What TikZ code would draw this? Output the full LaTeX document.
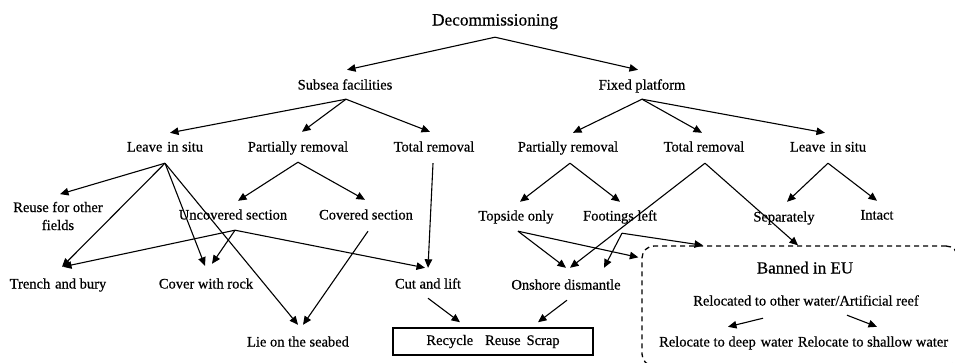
\documentclass[tikz,border=0pt]{standalone}
\usepackage{fontspec}
\setmainfont{Liberation Serif}[FakeBold=0.6]
\usetikzlibrary{arrows.meta,calc}
\begin{document}
\begin{tikzpicture}[x=1pt,y=-1pt,
  lbl/.style={font=\fontsize{14.5}{18}\selectfont, inner sep=0pt, text height=10pt, text depth=3pt},
  big/.style={lbl, font=\fontsize{17.3}{20}\selectfont},
  arr/.style={-{Triangle[length=8.5pt,width=7.5pt]}, line width=1.1pt},
]
\useasboundingbox (0,0) rectangle (955,362);
\clip (0,0) rectangle (955,362);

% ---- labels ----
\node[big] (dec) at (495,22) {Decommissioning};
\node[lbl] (sub) at (345,86) {Subsea facilities};
\node[lbl] (fix) at (642,86) {Fixed platform};

\node[lbl] (lis1) at (165,148) {Leave\,\,in situ};
\node[lbl] (pr1) at (298,148) {Partially removal};
\node[lbl] (tr1) at (434,148) {Total removal};
\node[lbl] (pr2) at (568,148) {Partially removal};
\node[lbl] (tr2) at (704,148) {Total removal};
\node[lbl] (lis2) at (828,148) {Leave\,\,in situ};

\node[font=\fontsize{14.5}{18}\selectfont, inner sep=0pt, align=center] (reuse) at (58,216) {Reuse for other\\fields};
\node[lbl] (unc) at (233,216) {Uncovered section};
\node[lbl] (cov) at (366,216) {Covered section};
\node[lbl] (top) at (516,217) {Topside only};
\node[lbl] (foot) at (620,217) {Footings left};
\node[lbl] (sep) at (784,218) {Separately};
\node[lbl] (intact) at (877,216) {Intact};

\node[lbl] (trench) at (58,285) {Trench\,\,and bury};
\node[lbl] (rock) at (206,285) {Cover with rock};
\node[lbl] (cut) at (428,285) {Cut and lift};
\node[lbl] (onshore) at (566,286) {Onshore dismantle};
\node[lbl] (lie) at (298,343) {Lie on the seabed};

\node[draw, line width=1.5pt, minimum width=200pt, minimum height=27pt, inner sep=0pt,
      font=\fontsize{14.5}{18}\selectfont] (box) at (493,341.5)
      {Recycle\hspace{12pt}Reuse\hspace{6pt}Scrap};

% dashed region for options banned in the EU
\node[draw, rounded corners=12pt, dash pattern=on 5pt off 4pt, line width=1.3pt,
      minimum width=316pt, minimum height=120pt, inner sep=0pt] (eu) at (800,306) {};
\node[big, font=\fontsize{17}{20}\selectfont] (ban) at (805,270) {Banned in EU};
\node[lbl] (reloc) at (806,302) {Relocated to other water/Artificial reef};
\node[lbl] (deep) at (726,343) {Relocate to deep\,\,water};
\node[lbl] (shallow) at (873,343) {Relocate to shallow water};

% ---- connectors ----
\draw[arr] ($(dec.south)+(0,8.5)$) -- ($(sub.north)+(2,-9.5)$);
\draw[arr] ($(dec.south)+(0,8.5)$) -- ($(fix.north)+(-4,-9.5)$);

\draw[arr] ($(sub.south)+(1,6.5)$) -- ($(lis1.north)+(5,-8.5)$);
\draw[arr] ($(sub.south)+(1,6.5)$) -- ($(pr1.north)+(4,-9.5)$);
\draw[arr] ($(sub.south)+(1,6.5)$) -- ($(tr1.north)+(-4,-9.5)$);

\draw[arr] ($(fix.south)+(0,6.5)$) -- ($(pr2.north)+(5,-8.5)$);
\draw[arr] ($(fix.south)+(0,6.5)$) -- ($(tr2.north)+(-2,-8.5)$);
\draw[arr] ($(fix.south)+(0,6.5)$) -- ($(lis2.north)+(-3,-8.5)$);

\draw[arr] ($(lis1.south)+(0,8.5)$) -- ($(reuse.north)+(2,-7.5)$);
\draw[arr] ($(lis1.south)+(0,8.5)$) -- ($(trench.north)+(4,-11.5)$);
\draw[arr] ($(lis1.south)+(0,8.5)$) -- ($(rock.north)+(-1,-12.5)$);
\draw[arr] ($(lis1.south)+(0,8.5)$) -- ($(lie.north)+(0,-11.5)$);

\draw[arr] ($(pr1.south)+(0,7.5)$) -- ($(unc.north)+(5,-8.5)$);
\draw[arr] ($(pr1.south)+(0,7.5)$) -- ($(cov.north)+(-1,-9.5)$);

\draw[arr] ($(tr1.south)+(-1,8.5)$) -- ($(cut.north)+(0,-10.5)$);

\draw[arr] ($(unc.south)+(2,7.5)$) -- ($(trench.north)+(5,-11.5)$);
\draw[arr] ($(unc.south)+(2,7.5)$) -- ($(rock.north)+(6,-14.5)$);
\draw[arr] ($(unc.south)+(2,7.5)$) -- ($(cut.north)+(-3,-10.5)$);

\draw[arr] ($(cov.south)+(2,8.5)$) -- ($(lie.north)+(5,-11.5)$);

\draw[arr] ($(cut.south)+(0,6.5)$) -- ($(box.north)+(-33,-5)$);

\draw[arr] ($(pr2.south)+(2,8.5)$) -- ($(top.north)+(4,-8.5)$);
\draw[arr] ($(pr2.south)+(2,8.5)$) -- ($(foot.north)+(0,-8.5)$);

\draw[arr] ($(tr2.south)+(1,8.5)$) -- ($(onshore.north)+(4,-11.5)$);
\draw[arr] ($(tr2.south)+(1,8.5)$) -- ($(eu.north)+(-2,0)$);

\draw[arr] ($(lis2.south)+(0,8.5)$) -- ($(sep.north)+(3,-9.5)$);
\draw[arr] ($(lis2.south)+(0,8.5)$) -- ($(intact.north)+(0,-8.5)$);

\draw[arr] ($(top.south)+(2,7.5)$) -- ($(onshore.north)+(0,-11.5)$);
\draw[arr] ($(top.south)+(2,7.5)$) -- ($(eu.north west)+(-3,12)$);

\draw[arr] ($(foot.south)+(2,9.5)$) -- ($(onshore.north)+(38,-11.5)$);
\draw[arr] ($(foot.south)+(2,9.5)$) -- ($(eu.north)+(-97,0)$);

\draw[arr] ($(onshore.south)+(1,7.5)$) -- ($(box.north)+(45,-5)$);

\draw[arr] ($(reloc.south)+(-43,9.5)$) -- ($(deep.north)+(2,-9.5)$);
\draw[arr] ($(reloc.south)+(41,6.5)$) -- ($(shallow.north)+(4,-9.5)$);
\end{tikzpicture}
\end{document}
